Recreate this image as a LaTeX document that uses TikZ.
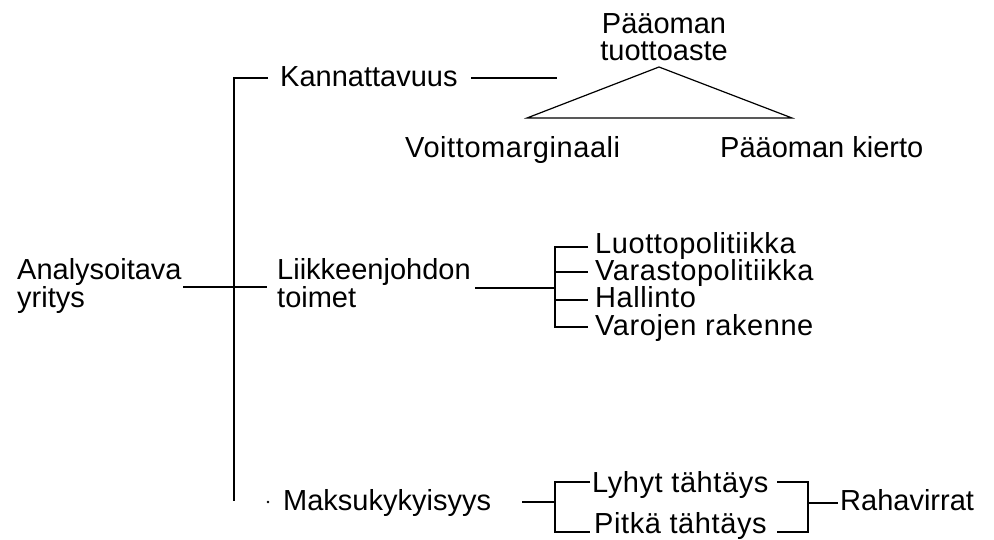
\documentclass[tikz,border=0pt]{standalone}
\usepackage{fontspec}
\setmainfont{Liberation Sans}
\begin{document}
\begin{tikzpicture}[x=1pt,y=-1pt,
  lbl/.style={inner sep=0pt, anchor=base west, font=\fontsize{29}{27}\selectfont, align=left},
  wlbl/.style={lbl, font=\fontsize{29}{27}\selectfont\addfontfeatures{LetterSpace=2}},
  ln/.style={line width=1.6pt},
  thinln/.style={line width=1.2pt}]
\useasboundingbox[fill=white] (0,0) rectangle (994,540);
% text nodes (multi-line nodes: base = last line's baseline)
\node[lbl] (ana) at (17,308) {Analysoitava\\yritys};
\node[lbl] (kan) at (280,87) {Kannattavuus};
\node[lbl] (lii) at (277,308) {Liikkeenjohdon\\toimet};
\node[lbl] (mak) at (283,510) {Maksukykyisyys};
\node[lbl, anchor=base, align=center] (pto) at (664,61) {Pääoman\\tuottoaste};
\node[wlbl] (voi) at (405,158) {Voittomarginaali};
\node[lbl] (pki) at (720,158) {Pääoman kierto};
\node[wlbl] (luo) at (595,254) {Luottopolitiikka};
\node[wlbl] (var) at (595,281) {Varastopolitiikka};
\node[wlbl] (hal) at (595,308) {Hallinto};
\node[wlbl] (vro) at (595,335) {Varojen rakenne};
\node[wlbl] (lyh) at (592,492) {Lyhyt tähtäys};
\node[wlbl] (pit) at (594,533) {Pitkä tähtäys};
\node[lbl] (rah) at (840,510) {Rahavirrat};
% junction coordinates
\coordinate (mtop) at (234,78);
\coordinate (mbot) at (234,501);
\coordinate (ktick) at (268,78);
\coordinate (aL) at (183,287);
\coordinate (aR) at (267,287);
\coordinate (kL) at (471,78);
\coordinate (kR) at (557,78);
\coordinate (tA) at (659,67);
\coordinate (tL) at (527,118);
\coordinate (tR) at (792,118);
\coordinate (lL) at (475,288);
\coordinate (lB) at (555,288);
\coordinate (b1) at (555,247);
\coordinate (b2) at (555,272);
\coordinate (b3) at (555,300);
\coordinate (b4) at (555,327);
\coordinate (e1) at (588,247);
\coordinate (e2) at (588,272);
\coordinate (e3) at (588,300);
\coordinate (e4) at (588,327);
\coordinate (mL) at (522,502);
\coordinate (mB) at (555,502);
\coordinate (s1) at (555,482);
\coordinate (s2) at (555,532);
\coordinate (t1) at (590,482);
\coordinate (t2) at (590,532);
\coordinate (r1) at (777,482);
\coordinate (r2) at (777,532);
\coordinate (q1) at (808,482);
\coordinate (q2) at (808,532);
\coordinate (qm) at (808,503);
\coordinate (rR) at (838,503);
\coordinate (dot) at (268,502);
% connectors
\draw[ln] (ktick) -- (mtop) -- (mbot);
\draw[ln] (aL) -- (aR);
\draw[ln] (kL) -- (kR);
\draw[thinln, line join=miter] (tL) -- (tA) -- (tR) -- cycle;
\draw[ln] (lL) -- (lB);
\draw[ln] (e1) -- (b1) -- (b4) -- (e4);
\draw[ln] (b2) -- (e2);
\draw[ln] (b3) -- (e3);
\draw[ln] (mL) -- (mB);
\draw[ln] (t1) -- (s1) -- (s2) -- (t2);
\draw[ln] (r1) -- (q1) -- (q2) -- (r2);
\draw[ln] (qm) -- (rR);
\fill (dot) circle (1.3);
\end{tikzpicture}
\end{document}
